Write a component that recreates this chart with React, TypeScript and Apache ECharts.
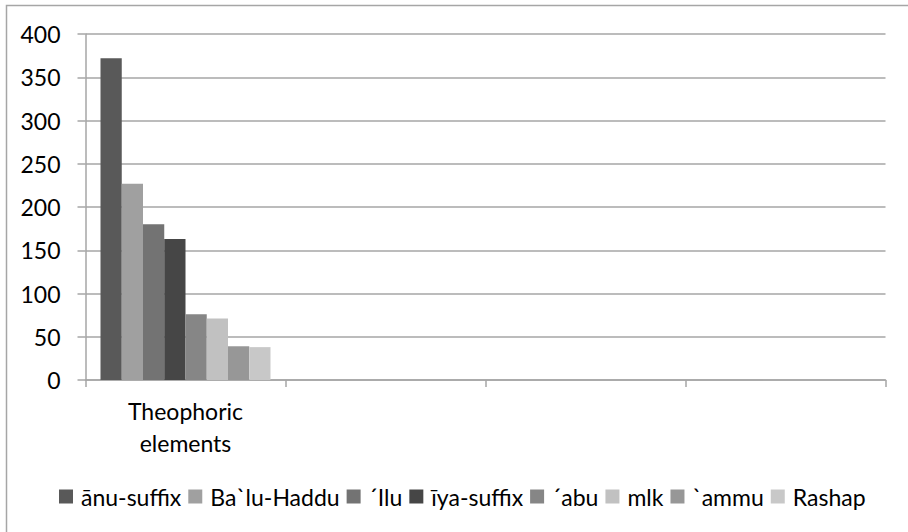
import React, { useEffect, useRef } from "react";
import * as echarts from "echarts";

const categories = ["Theophoric\nelements", "", "", ""];
const seriesNames = ["ānu-suffix", "Ba`lu-Haddu", "´Ilu", "īya-suffix", "´abu", "mlk", "`ammu", "Rashap"];
const seriesValues = [372, 227, 180, 163, 76, 71, 39, 38];
const seriesColors = ["#595959", "#a0a0a0", "#737373", "#464646", "#868686", "#c1c1c1", "#979797", "#c8c8c8"];
const yTicks = { min: 0, max: 400, interval: 50 };

const FONT = "Lato";

export default function App() {
  const ref = useRef<HTMLDivElement>(null);

  useEffect(() => {
    const chart = echarts.init(ref.current!, undefined, { renderer: "svg" });
    chart.setOption({
      animation: false,
      backgroundColor: "#ffffff",
      textStyle: { fontFamily: FONT, color: "#000000" },
      graphic: [
        {
          type: "rect",
          shape: { x: 6.5, y: 5.5, width: 920, height: 540 },
          style: { fill: "none", stroke: "#a6a6a6", lineWidth: 1.5 },
          silent: true,
        },
      ],
      grid: { left: 85.5, right: 22.5, top: 34, bottom: 152, containLabel: false },
      legend: {
        bottom: 19,
        left: 54,
        itemWidth: 14,
        itemHeight: 14,
        itemGap: 7,
        icon: "rect",
        textStyle: { fontFamily: FONT, fontSize: 23, color: "#000", padding: [0, 0, 0, 3] },
        data: seriesNames,
      },
      xAxis: {
        type: "category",
        data: categories,
        axisLine: { lineStyle: { color: "#a6a6a6", width: 1.5 } },
        axisTick: { show: true, length: 7, alignWithLabel: false, lineStyle: { color: "#a6a6a6", width: 1.5 } },
        axisLabel: { fontFamily: FONT, fontSize: 23, color: "#000", margin: 15, lineHeight: 32, interval: 0 },
      },
      yAxis: {
        type: "value",
        min: yTicks.min,
        max: yTicks.max,
        interval: yTicks.interval,
        axisLine: { show: true, lineStyle: { color: "#a6a6a6", width: 1.5 } },
        axisTick: { show: true, length: 8, lineStyle: { color: "#a6a6a6", width: 1.5 } },
        splitLine: { lineStyle: { color: "#a6a6a6", width: 1.5 } },
        axisLabel: { fontFamily: FONT, fontSize: 23, color: "#000", margin: 25 },
      },
      series: seriesNames.map((name, i) => ({
        name,
        type: "bar",
        data: [seriesValues[i], null, null, null],
        itemStyle: { color: seriesColors[i] },
        barGap: "0%",
        barCategoryGap: "15%",
      })),
    });
    return () => chart.dispose();
  }, []);

  return (
    <div
      ref={ref}
      style={{ position: "absolute", left: 0, top: 0, width: 908, height: 532 }}
    />
  );
}
